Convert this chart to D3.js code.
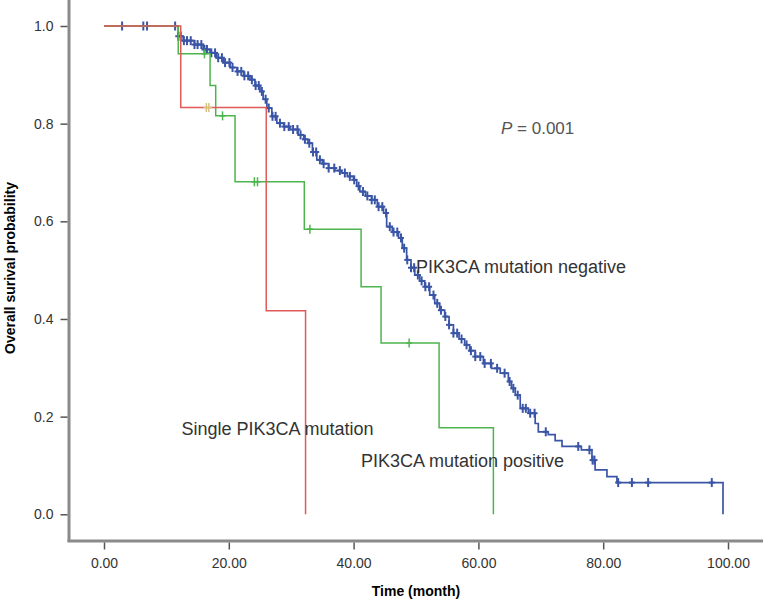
<!DOCTYPE html>
<html><head><meta charset="utf-8">
<script src="https://cdn.jsdelivr.net/npm/d3@7"></script>
<style>body{margin:0;background:#fff}svg{display:block;font-family:"Liberation Sans",Arial,sans-serif}</style>
</head><body><svg id="c" width="763" height="600"></svg>
<script>
// ---- data ----
const xTicks = [0, 20, 40, 60, 80, 100];
const yTicks = [0.0, 0.2, 0.4, 0.6, 0.8, 1.0];
const groupNames = ["PIK3CA mutation negative", "Single PIK3CA mutation", "PIK3CA mutation positive"];
// step points [time, survival]
const negativeSteps = [[0,1],[11.9,0.979],[12.7,0.970],[14.5,0.962],[15.9,0.952],[17.0,0.945],[18.0,0.935],[19.1,0.925],[20.2,0.915],[21.3,0.907],[22.4,0.898],[23.4,0.890],[24.2,0.878],[25.0,0.866],[25.5,0.850],[26.1,0.832],[26.9,0.815],[27.7,0.801],[28.8,0.794],[29.8,0.788],[31.1,0.777],[32.0,0.768],[32.7,0.760],[33.4,0.742],[34.1,0.726],[35.0,0.718],[36.0,0.709],[37.0,0.704],[38.1,0.699],[39.0,0.692],[40.0,0.685],[40.5,0.672],[41.0,0.661],[41.9,0.652],[42.9,0.644],[43.8,0.630],[44.8,0.617],[45.3,0.589],[46.2,0.578],[47.2,0.566],[47.8,0.545],[48.5,0.521],[49.2,0.505],[49.8,0.490],[50.6,0.478],[51.4,0.466],[52.2,0.449],[53.0,0.432],[53.8,0.418],[54.6,0.405],[55.3,0.388],[56.0,0.371],[56.9,0.359],[57.8,0.347],[58.6,0.335],[59.5,0.323],[60.8,0.309],[62.1,0.299],[63.5,0.289],[64.8,0.272],[65.3,0.258],[65.9,0.244],[66.7,0.217],[68.0,0.207],[69.1,0.186],[69.6,0.169],[71.2,0.163],[72.3,0.151],[73.4,0.139],[76.5,0.132],[78.2,0.111],[78.7,0.091],[80.6,0.077],[82.2,0.065],[99.2,0]];
const singleSteps = [[0,1],[12.3,0.833],[26.0,0.417],[32.3,0]];
const positiveSteps = [[0,1],[11.9,0.943],[17.0,0.878],[17.9,0.816],[21.0,0.681],[32.1,0.584],[41.2,0.466],[44.4,0.351],[53.7,0.177],[62.4,0]];
// censored times
const negativeCensored = [2.9,6.3,6.9,11.4,11.9,12.3,12.8,13.3,13.9,14.5,15.0,15.6,16.1,16.5,17.2,17.8,18.3,18.9,19.4,20.1,20.6,21.4,22.0,22.5,23.1,23.7,24.3,24.8,25.3,25.9,26.4,27.0,27.5,28.2,28.9,29.6,30.3,31.0,31.5,32.2,32.9,33.5,34.0,34.6,35.2,36.0,36.9,37.8,38.6,39.4,40.1,40.8,41.5,42.2,42.9,43.4,44.0,44.6,45.2,45.8,46.4,47.0,47.6,48.1,48.6,49.2,49.7,50.3,50.9,51.5,52.1,52.8,53.4,54.0,54.7,55.3,56.0,56.6,57.3,58.1,58.8,59.5,60.3,61.0,62.0,63.0,64.2,65.0,65.6,66.3,67.1,67.6,68.3,69.0,70.8,76.0,77.8,78.3,78.6,82.4,84.6,87.2,97.4];
const singleCensored = [16.4, 16.8];
const positiveCensored = [16.1, 19.0, 24.1, 24.6, 33.0, 48.9];
const pText = "0.001";

// ---- chart ----
const svg = d3.select("#c");
const x = d3.scaleLinear().domain([0, 100]).range([104, 728]);
const y = d3.scaleLinear().domain([0, 1]).range([514.3, 26]);
const axisLeftX = 69, axisBottomY = 541;

// axis lines
svg.append("line").attr("x1", axisLeftX).attr("x2", axisLeftX).attr("y1", 0).attr("y2", axisBottomY + 1)
  .attr("stroke", "#8a8a8a").attr("stroke-width", 3);
svg.append("line").attr("x1", axisLeftX - 1.5).attr("x2", 763).attr("y1", axisBottomY).attr("y2", axisBottomY)
  .attr("stroke", "#8a8a8a").attr("stroke-width", 3);

// axes via d3
const yAxis = d3.axisLeft(y).tickValues(yTicks).tickFormat(d3.format(".1f")).tickSize(7).tickPadding(7);
const gy = svg.append("g").attr("transform", `translate(${axisLeftX - 1.5},0)`).call(yAxis);
const xAxis = d3.axisBottom(x).tickValues(xTicks).tickFormat(d3.format(".2f")).tickSize(7).tickPadding(9);
const gx = svg.append("g").attr("transform", `translate(0,${axisBottomY + 1.5})`).call(xAxis);
[gx, gy].forEach(g => {
  g.select(".domain").remove();
  g.selectAll(".tick line").attr("stroke", "#555").attr("stroke-width", 1.5);
  g.selectAll(".tick text").attr("fill", "#333").style("font-size", "14px").style("font-family", "Liberation Sans, Arial, sans-serif");
});

// titles
svg.append("text").attr("x", 416).attr("y", 596).attr("text-anchor", "middle")
  .style("font-size", "14px").style("font-weight", "bold").attr("fill", "#000").text("Time (month)");
svg.append("text").attr("transform", "translate(15,268) rotate(-90)").attr("text-anchor", "middle")
  .style("font-size", "14px").style("font-weight", "bold").attr("fill", "#000").text("Overall surival probability");

// curves
const line = d3.line().x(d => x(d[0])).y(d => y(d[1])).curve(d3.curveStepAfter);
function stepAt(steps, t) { let v = steps[0][1]; for (const s of steps) { if (s[0] <= t) v = s[1]; } return v; }
function drawGroup(steps, censored, color, censorColor, lw, cw) {
  svg.append("path").datum(steps).attr("d", line).attr("fill", "none").attr("stroke", color).attr("stroke-width", lw);
  const g = svg.append("g");
  censored.forEach(t => {
    const cx = x(t), cy = y(stepAt(steps, t));
    g.append("line").attr("x1", cx).attr("x2", cx).attr("y1", cy - 4.5).attr("y2", cy + 4.5).attr("stroke", censorColor).attr("stroke-width", cw);
    g.append("line").attr("x1", cx - 3).attr("x2", cx + 3).attr("y1", cy).attr("y2", cy).attr("stroke", censorColor).attr("stroke-width", cw);
  });
}
drawGroup(negativeSteps, negativeCensored, "#3a55a6", "#3a55a6", 1.7, 2);
drawGroup(positiveSteps, positiveCensored, "#4db44d", "#4db44d", 1.5, 1.5);
drawGroup(singleSteps, singleCensored, "#e05a5a", "#d9c27c", 1.5, 1.5);

// labels
const lab = [[groupNames[0], 416, 273.3], [groupNames[1], 181.5, 435], [groupNames[2], 361, 467]];
lab.forEach(l => svg.append("text").attr("x", l[1]).attr("y", l[2]).style("font-size", "18px").attr("fill", "#333").text(l[0]));
const pt = svg.append("text").attr("x", 501).attr("y", 134).style("font-size", "17px").attr("fill", "#555");
pt.append("tspan").style("font-style", "italic").text("P");
pt.append("tspan").text(" = " + pText);
</script></body></html>
